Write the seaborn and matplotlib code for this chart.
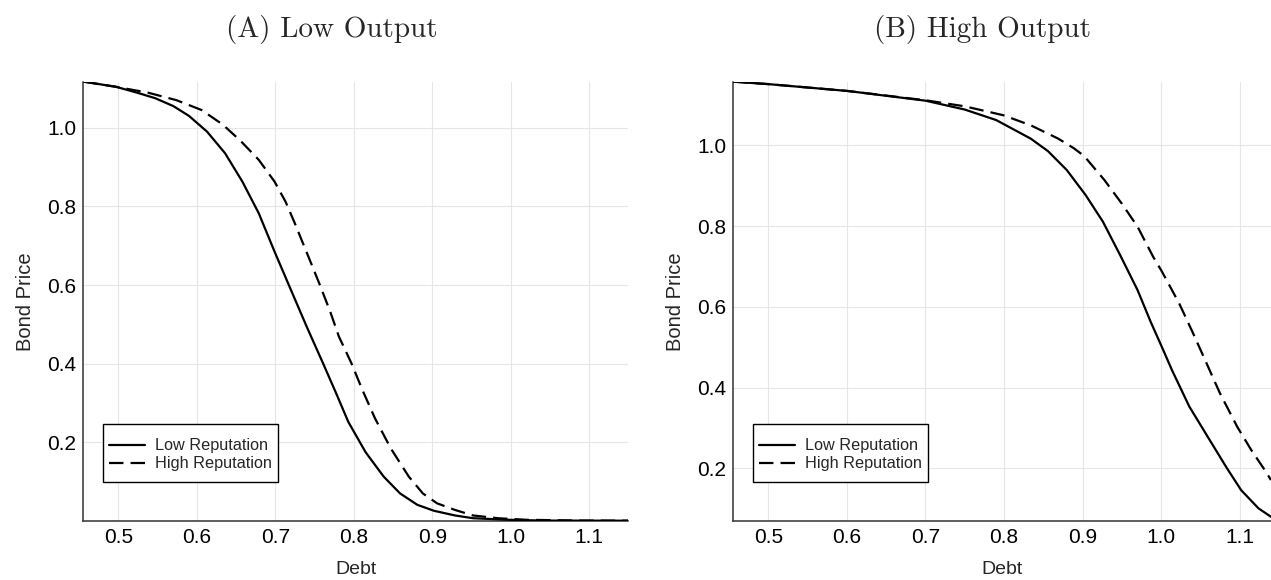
import matplotlib
matplotlib.use("Agg")
import matplotlib.pyplot as plt
from matplotlib.patches import Rectangle
import seaborn as sns
import pandas as pd

# ---------------- data ----------------
# Panel A: Low Output
low_out_low_rep_x = [0.456, 0.497, 0.524, 0.547, 0.570, 0.590, 0.613, 0.636, 0.658, 0.679,
                     0.699, 0.720, 0.740, 0.761, 0.777, 0.793, 0.815, 0.838, 0.859, 0.881,
                     0.902, 0.929, 0.952, 0.997, 1.043, 1.150]
low_out_low_rep_y = [1.117, 1.104, 1.089, 1.075, 1.055, 1.030, 0.990, 0.935, 0.863, 0.782,
                     0.685, 0.587, 0.494, 0.400, 0.327, 0.252, 0.175, 0.113, 0.070, 0.041,
                     0.026, 0.014, 0.007, 0.003, 0.001, 0.0007]
low_out_high_rep_x = [0.456, 0.497, 0.538, 0.574, 0.606, 0.633, 0.656, 0.679, 0.699, 0.713,
                      0.724, 0.743, 0.756, 0.770, 0.781, 0.797, 0.811, 0.827, 0.847, 0.870,
                      0.888, 0.906, 0.929, 0.952, 0.984, 1.020, 1.089, 1.150]
low_out_high_rep_y = [1.117, 1.104, 1.089, 1.070, 1.045, 1.008, 0.966, 0.918, 0.863, 0.812,
                      0.761, 0.668, 0.604, 0.532, 0.469, 0.401, 0.333, 0.261, 0.185, 0.113,
                      0.070, 0.045, 0.028, 0.014, 0.007, 0.003, 0.001, 0.0007]

# Panel B: High Output
high_out_low_rep_x = [0.456, 0.500, 0.601, 0.700, 0.750, 0.790, 0.834, 0.856, 0.880, 0.904,
                      0.926, 0.948, 0.970, 0.987, 1.001, 1.014, 1.036, 1.062, 1.084, 1.102,
                      1.124, 1.140]
high_out_low_rep_y = [1.158, 1.152, 1.135, 1.111, 1.089, 1.063, 1.017, 0.986, 0.939, 0.877,
                      0.811, 0.728, 0.642, 0.562, 0.501, 0.443, 0.353, 0.270, 0.200, 0.146,
                      0.101, 0.080]
high_out_high_rep_x = [0.456, 0.500, 0.601, 0.700, 0.750, 0.799, 0.834, 0.869, 0.889, 0.902,
                       0.928, 0.950, 0.970, 0.990, 1.001, 1.023, 1.040, 1.058, 1.075, 1.097,
                       1.115, 1.132, 1.140]
high_out_high_rep_y = [1.158, 1.152, 1.135, 1.112, 1.097, 1.075, 1.050, 1.017, 0.993, 0.974,
                       0.914, 0.856, 0.799, 0.724, 0.688, 0.609, 0.538, 0.460, 0.386, 0.303,
                       0.245, 0.196, 0.171]

panel_titles = ["(A) Low Output", "(B) High Output"]
series_labels = ["Low Reputation", "High Reputation"]
x_ticks = [0.5, 0.6, 0.7, 0.8, 0.9, 1.0, 1.1]
y_ticks = [0.2, 0.4, 0.6, 0.8, 1.0]
x_label = "Debt"
y_label = "Bond Price"

# ---------------- style ----------------
sns.set_style("white")
plt.rcParams["font.family"] = ["Liberation Sans", "DejaVu Sans"]

fig = plt.figure(figsize=(12.71, 5.80), dpi=100)
W, H = 1271.0, 580.0
AX_H = 439.0
ax_a = fig.add_axes([83.3 / W, (H - 520.7) / H, 545.0 / W, AX_H / H])
ax_b = fig.add_axes([733.3 / W, (H - 520.7) / H, (1271.0 - 733.3) / W, AX_H / H])

panels = [
    (ax_a, low_out_low_rep_x, low_out_low_rep_y, low_out_high_rep_x, low_out_high_rep_y,
     (0.4553, 1.1498), (0.0007, 1.117), 332.0),
    (ax_b, high_out_low_rep_x, high_out_low_rep_y, high_out_high_rep_x, high_out_high_rep_y,
     (0.4553, 1.140), (0.0703, 1.158), 982.7),
]

# legend box geometry in pixels relative to the axes' lower-left corner
LEG_X0, LEG_Y0, LEG_W, LEG_H = 19.4, 39.0, 175.6, 57.7

for i, (ax, lx, ly, hx, hy, xl, yl, tx) in enumerate(panels):
    df_low = pd.DataFrame({"x": lx, "y": ly})
    df_high = pd.DataFrame({"x": hx, "y": hy})
    sns.lineplot(data=df_low, x="x", y="y", ax=ax, color="black", lw=1.6,
                 label=series_labels[0], sort=False, zorder=3)
    sns.lineplot(data=df_high, x="x", y="y", ax=ax, color="black", lw=1.6,
                 label=series_labels[1], sort=False, zorder=3)
    ax.lines[1].set_dashes((6.5, 3.2))

    ax.set_xlim(*xl)
    ax.set_ylim(*yl)
    ax.set_xticks(x_ticks)
    ax.set_yticks(y_ticks)
    ax.set_xticklabels([f"{t:.1f}" for t in x_ticks])
    ax.set_yticklabels([f"{t:.1f}" for t in y_ticks])
    ax.grid(True, color="#e6e6e6", lw=0.8, zorder=0)
    ax.set_axisbelow(True)

    for s in ["top", "right"]:
        ax.spines[s].set_visible(False)
    for s in ["left", "bottom"]:
        ax.spines[s].set_color("#333333")
        ax.spines[s].set_linewidth(1.1)
    ax.tick_params(axis="both", direction="in", length=4.5, width=1.0,
                   color="#333333", labelsize=15, labelcolor="black", pad=5)

    ax.set_xlabel(x_label, fontsize=14, labelpad=10)
    ax.set_ylabel(y_label, fontsize=14.5, labelpad=9)

    bb_w = ax.get_position().width * W
    fx0, fy0 = LEG_X0 / bb_w, LEG_Y0 / AX_H
    fw, fh = LEG_W / bb_w, LEG_H / AX_H
    box = Rectangle((fx0, fy0), fw, fh, transform=ax.transAxes, facecolor="white",
                    edgecolor="black", lw=1.0, zorder=5, clip_on=False)
    ax.add_patch(box)
    leg = ax.legend(loc="center",
                    bbox_to_anchor=(fx0 + fw / 2, fy0 + fh / 2 - 2.0 / AX_H),
                    borderaxespad=0, fontsize=11.7, frameon=False,
                    handlelength=2.2, handletextpad=0.6, labelspacing=0.2,
                    borderpad=0.0)
    leg.set_zorder(6)

    fig.text(tx / W, 1.0 - 29.0 / H, panel_titles[i],
             ha="center", va="center", fontsize=21, family="cmr10")

fig.savefig("out.png", dpi=100)
